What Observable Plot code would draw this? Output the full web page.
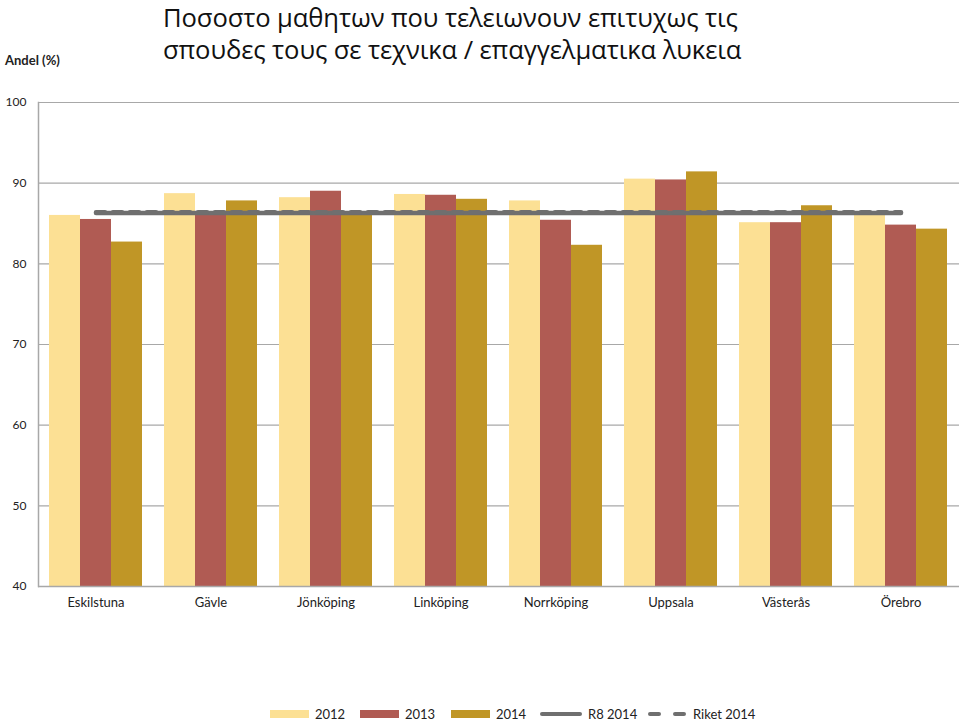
<!DOCTYPE html>
<html>
<head>
<meta charset="utf-8">
<script src="https://cdn.jsdelivr.net/npm/d3@7"></script>
<script src="https://cdn.jsdelivr.net/npm/@observablehq/plot@0.6"></script>
<style>
  html, body { margin: 0; padding: 0; background: #fff; }
  #wrap { position: relative; width: 959px; height: 723px; overflow: hidden; font-family: Lato, "Open Sans", sans-serif; color: #222; }
  .title { position: absolute; left: 163px; font-family: "Open Sans", "Noto Sans", sans-serif; font-size: 25.6px; line-height: normal; color: #111; letter-spacing: -0.1px; white-space: nowrap; }
  #t1 { top: 0px; }
  #t2 { top: 32px; }
  #ylab { position: absolute; left: 5px; top: 52px; font-size: 13px; font-weight: bold; color: #222; }
  #legend { position: absolute; top: 706px; left: 0; width: 959px; font-size: 13px; color: #222; }
  .li { position: absolute; display: flex; align-items: center; height: 16px; }
  .li svg { margin-right: 6px; }
  #chart { position: absolute; left: 0; top: 0; }
</style>
</head>
<body>
<div id="wrap">
  <div id="chart"></div>
  <div class="title" id="t1">Ποσοστο μαθητων που τελειωνουν επιτυχως τις</div>
  <div class="title" id="t2">σπουδες τους σε τεχνικα / επαγγελματικα λυκεια</div>
  <div id="ylab">Andel (%)</div>
  <div id="legend"></div>
</div>
<script>
const cities = ["Eskilstuna", "Gävle", "Jönköping", "Linköping", "Norrköping", "Uppsala", "Västerås", "Örebro"];
const years = ["2012", "2013", "2014"];
const v2012 = [86.0, 88.7, 88.2, 88.6, 87.8, 90.5, 85.1, 86.2];
const v2013 = [85.5, 86.4, 89.0, 88.5, 85.4, 90.4, 85.1, 84.8];
const v2014 = [82.7, 87.8, 86.4, 88.0, 82.3, 91.4, 87.2, 84.3];
const r8_2014 = [86.3, 86.3, 86.3, 86.3, 86.3, 86.3, 86.3, 86.3];
const riket_2014 = [86.4, 86.4, 86.4, 86.4, 86.4, 86.4, 86.4, 86.4];
const yTicks = [40, 50, 60, 70, 80, 90, 100];

const colors = {"2012": "#FCE094", "2013": "#B05B53", "2014": "#C09626", line: "#6F6F6F"};
const series = [v2012, v2013, v2014];

const rows = cities.map((c, i) => ({city: c, r8: r8_2014[i], riket: riket_2014[i]}));

const barW = 31;
const barMarks = years.map((yr, k) => Plot.barY(
  cities.map((c, i) => ({city: c, v: series[k][i]})),
  {x: "city", y1: 40, y2: "v", fill: colors[yr], insetLeft: k * barW, insetRight: (2 - k) * barW}
));

const chart = Plot.plot({
  width: 959,
  height: 723,
  marginTop: 102,
  marginBottom: 137,
  marginLeft: 38,
  marginRight: 0,
  style: {fontFamily: "Lato, 'Open Sans', sans-serif", fontSize: "13px", color: "#222", background: "transparent"},
  x: {type: "band", domain: cities, paddingInner: 0.19, paddingOuter: 0.095, label: null},
  y: {domain: [40, 100], label: null},
  marks: [
    Plot.ruleY(yTicks.slice(1), {stroke: "#A8A8A8", strokeWidth: 1.2}),
    ...barMarks,
    Plot.ruleY([40], {stroke: "#A8A8A8", strokeWidth: 1.5}),
    Plot.frame({anchor: "left", stroke: "#A8A8A8", strokeWidth: 1.5}),
    Plot.lineY(rows, {x: "city", y: "r8", stroke: colors.line, strokeWidth: 4.5, strokeLinecap: "round"}),
    Plot.lineY(rows, {x: "city", y: "riket", stroke: colors.line, strokeWidth: 4.5, strokeDasharray: "9,8", strokeLinecap: "round"}),
    Plot.axisY({ticks: yTicks, tickSize: 0, tickPadding: 12, fontSize: 12, tickFormat: d => String(d)}),
    Plot.axisX({tickSize: 0, tickPadding: 11, fontSize: 13})
  ]
});
document.getElementById("chart").appendChild(chart);

// legend
const legendItems = [
  {label: "2012", kind: "rect", color: colors["2012"], x: 270},
  {label: "2013", kind: "rect", color: colors["2013"], x: 360},
  {label: "2014", kind: "rect", color: colors["2014"], x: 451},
  {label: "R8 2014", kind: "line", color: colors.line, x: 540},
  {label: "Riket 2014", kind: "dash", color: colors.line, x: 648}
];
const leg = document.getElementById("legend");
for (const it of legendItems) {
  const d = document.createElement("div");
  d.className = "li";
  d.style.left = it.x + "px";
  let sw;
  if (it.kind === "rect") {
    sw = `<svg width="39" height="10"><rect x="0" y="1" width="39" height="8" fill="${it.color}"/></svg>`;
  } else if (it.kind === "line") {
    sw = `<svg width="42" height="10"><line x1="2" y1="5" x2="40" y2="5" stroke="${it.color}" stroke-width="4" stroke-linecap="round"/></svg>`;
  } else {
    sw = `<svg width="39" height="10"><line x1="2" y1="5" x2="37" y2="5" stroke="${it.color}" stroke-width="4" stroke-linecap="round" stroke-dasharray="9,16"/></svg>`;
  }
  d.innerHTML = sw + `<span>${it.label}</span>`;
  leg.appendChild(d);
}
</script>
</body>
</html>
